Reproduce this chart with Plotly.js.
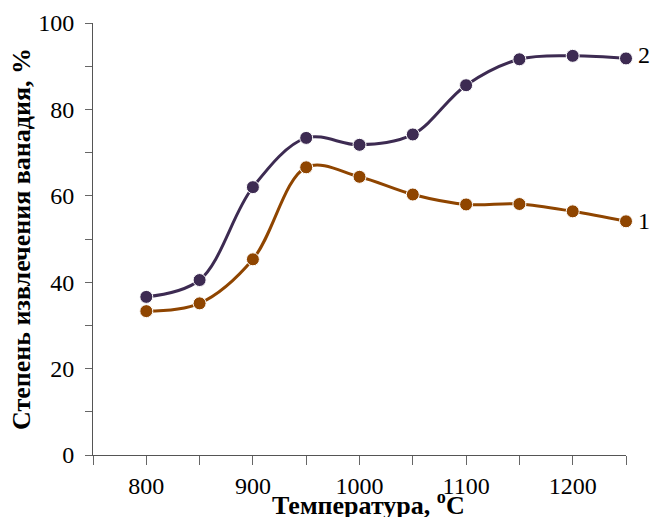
<!DOCTYPE html>
<html><head><meta charset="utf-8">
<script src="https://cdn.plot.ly/plotly-3.0.1.min.js"></script>
<style>body{margin:0;padding:0;background:#fff}#chart{width:650px;height:517px}</style>
</head><body><div id="chart"></div>
<script>
const temperature = [800, 850, 900, 950, 1000, 1050, 1100, 1150, 1200, 1250];
const series1 = [33.3, 35.1, 45.3, 66.6, 64.4, 60.3, 58.0, 58.1, 56.4, 54.1];
const series2 = [36.6, 40.5, 62.0, 73.4, 71.8, 74.2, 85.6, 91.6, 92.4, 91.8];
const seriesLabels = ["1", "2"];
const xTicks = [800, 900, 1000, 1100, 1200];
const yTicks = [0, 20, 40, 60, 80, 100];
const xTitle = '<b>Температура, <sup>o</sup>C</b>';
const yTitle = '<b>Степень извлечения ванадия, %</b>';

const c1 = '#8f4500', c2 = '#3d2b52';
const mk = (c) => ({size: 13, color: c, line: {color: '#ffffff', width: 1}});
const traces = [
  {x: temperature, y: series1, mode: 'lines+markers', line: {shape: 'spline', color: c1, width: 3}, marker: mk(c1), cliponaxis: false},
  {x: temperature, y: series2, mode: 'lines+markers', line: {shape: 'spline', color: c2, width: 3}, marker: mk(c2), cliponaxis: false}
];
const fam = 'Times New Roman, Liberation Serif, serif';
const f = (s) => ({family: fam, size: s, color: '#000'});
const layout = {
  width: 650, height: 517,
  margin: {l: 93, r: 24, t: 23, b: 62},
  showlegend: false,
  paper_bgcolor: '#fff', plot_bgcolor: '#fff',
  font: f(24),
  xaxis: {
    range: [750, 1250], tickvals: xTicks, ticks: 'outside', ticklen: 9, tickcolor: '#666',
    minor: {dtick: 50, ticks: 'outside', ticklen: 9, tickcolor: '#666'},
    showline: true, linecolor: '#555', linewidth: 1, showgrid: false, zeroline: false,
    tickfont: f(24)
  },
  yaxis: {
    range: [0, 100], tickvals: yTicks, ticks: 'outside', ticklen: 7, tickcolor: '#666',
    minor: {dtick: 10, ticks: 'outside', ticklen: 7, tickcolor: '#666'},
    ticklabelstandoff: 6,
    showline: true, linecolor: '#555', linewidth: 1, showgrid: false, zeroline: false,
    tickfont: f(24),
    title: {text: yTitle, font: f(26), standoff: 0}
  },
  annotations: [
    {xref: 'paper', yref: 'paper', x: 0.516, y: -0.07, xanchor: 'center', yanchor: 'top', text: xTitle, showarrow: false, font: f(26)},
    {x: temperature[temperature.length-1], y: series1[series1.length-1], text: seriesLabels[0], showarrow: false, xanchor: 'left', xshift: 10, font: f(24)},
    {x: temperature[temperature.length-1], y: series2[series2.length-1], text: seriesLabels[1], showarrow: false, xanchor: 'left', xshift: 10, yshift: 3, font: f(24)}
  ]
};
Plotly.newPlot('chart', traces, layout, {displayModeBar: false, staticPlot: true});
</script></body></html>
